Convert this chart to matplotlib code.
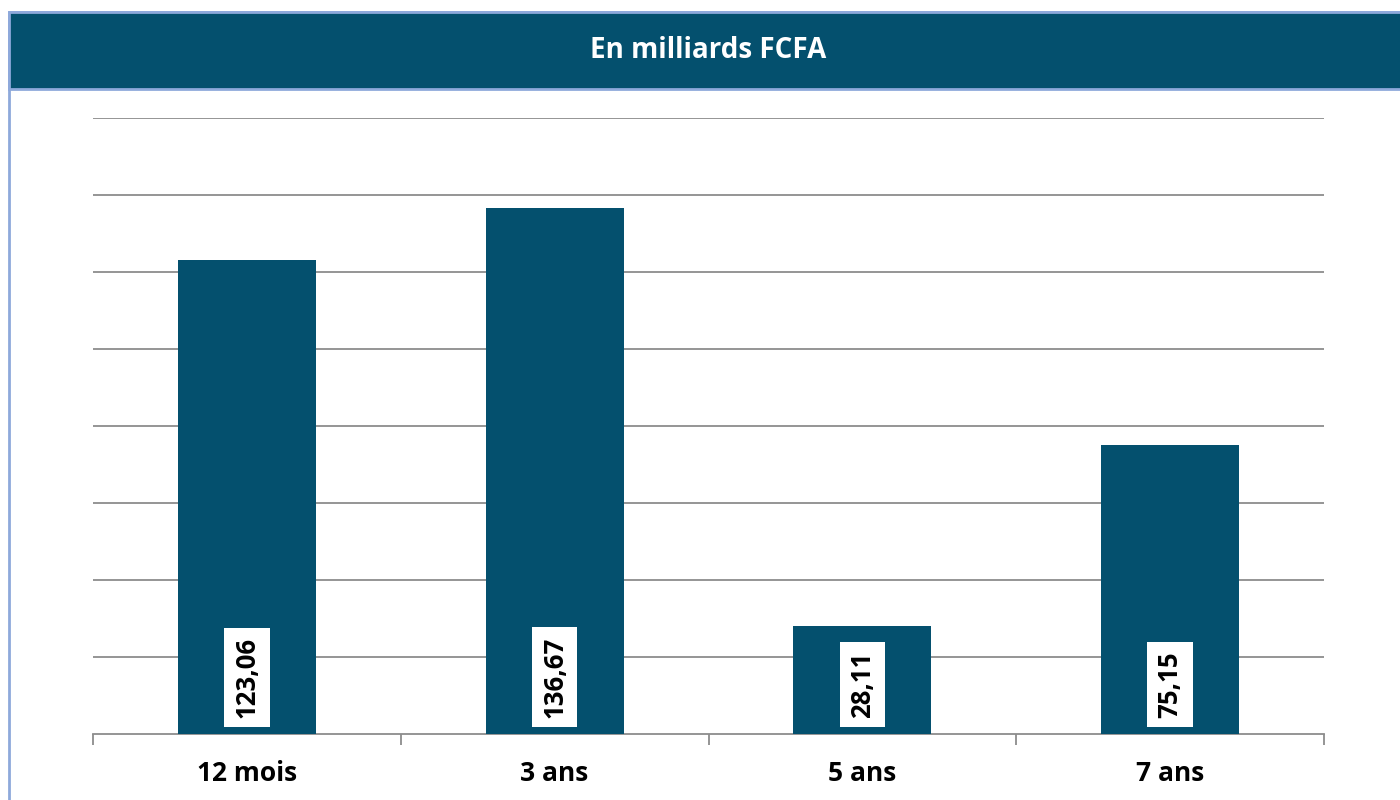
import matplotlib.pyplot as plt
from matplotlib.patches import Rectangle
import numpy as np

# ─── Data ────────────────────────────────────────────────────────────────────
categories = ["12 mois", "3 ans", "5 ans", "7 ans"]
values = [123.06, 136.67, 28.11, 75.15]
value_labels = ["123,06", "136,67", "28,11", "75,15"]
title = "En milliards FCFA"

BAR_COLOR = "#04506E"
BORDER_COLOR = "#8EA9DB"
GRID_COLOR = "#8C8C8C"

plt.rcParams.update({
    "font.family": ["Open Sans", "DejaVu Sans"],
    "font.weight": "bold",
})

fig = plt.figure(figsize=(14, 8), dpi=100)
W, H = 1400, 800

# figure frame + title band
fig.add_artist(Rectangle((8.5 / W, -0.1), 1.1, 1.1 - 11.5 / H,
                         transform=fig.transFigure, fill=False,
                         edgecolor=BORDER_COLOR, linewidth=2, zorder=0))
fig.add_artist(Rectangle((8.5 / W, 1 - 88.5 / H), 1.0, 77 / H,
                         transform=fig.transFigure, facecolor=BAR_COLOR,
                         edgecolor=BORDER_COLOR, linewidth=2, zorder=1))
fig.text(0.506, 1 - 50 / H, title, color="white", fontsize=20,
         fontweight="bold", ha="center", va="center")

ax = fig.add_axes([93 / W, 1 - 734 / H, (1324 - 93) / W, (734 - 118) / H])

x = np.arange(len(categories))
ax.bar(x, values, width=0.448, color=BAR_COLOR, zorder=3)

for xi, lab in zip(x, value_labels):
    ax.annotate(lab, xy=(xi, 0), xytext=(0, 11.5), textcoords="offset points",
                rotation=90, ha="center", va="bottom", fontsize=18.5,
                fontweight="bold", color="black", zorder=5,
                bbox=dict(boxstyle="square,pad=0.36", fc="white", ec="none"))

ax.set_xlim(-0.5, len(categories) - 0.5)
ax.set_ylim(0, 160)
ax.set_yticks(np.arange(20, 161, 20))
ax.yaxis.grid(True, color=GRID_COLOR, linewidth=1.3, zorder=0)
ax.tick_params(axis="y", length=0, labelleft=False)

ax.set_xticks(x)
ax.set_xticklabels(categories, fontsize=19, fontweight="bold")
ax.set_xticks(np.arange(-0.5, len(categories)), minor=True)
ax.tick_params(axis="x", which="major", length=0, pad=19)
ax.tick_params(axis="x", which="minor", length=8, width=1.3, color=GRID_COLOR)

for side in ["top", "right", "left"]:
    ax.spines[side].set_visible(False)
ax.spines["bottom"].set_color(GRID_COLOR)
ax.spines["bottom"].set_linewidth(1.3)
ax.set_axisbelow(True)

fig.savefig("out.png", dpi=100)
